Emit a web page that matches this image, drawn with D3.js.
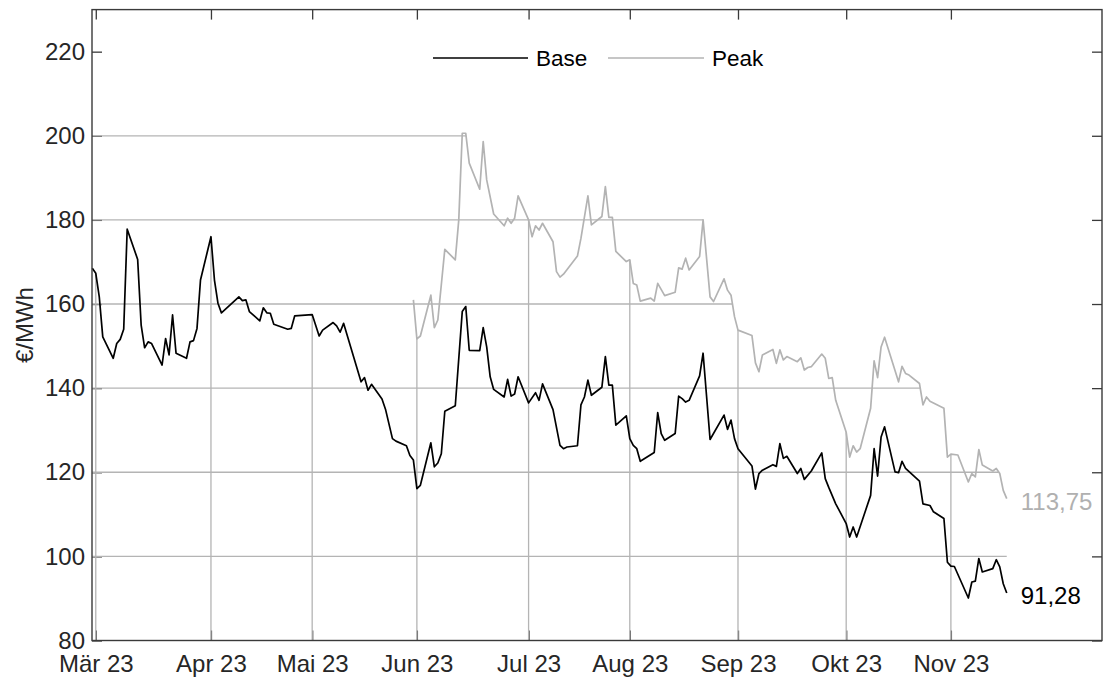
<!DOCTYPE html>
<html>
<head>
<meta charset="utf-8">
<script src="https://cdn.jsdelivr.net/npm/d3@7"></script>
<style>
  body { margin: 0; background: #fff; }
  svg text { font-family: "Liberation Sans", Arial, Helvetica, sans-serif; }
</style>
</head>
<body>
<div class="chart-container"></div>
<script>
// Tage seit 1. März 2023 (Handelstage), Werte in €/MWh
const startDate = '2023-03-01';

const baseSeries = [
  [-1,168.5],[0,167.3],[1,161.7],[2,152.2],[5,147.1],[6,150.6],[7,151.6],[8,154.0],[9,177.8],
  [12,170.6],[13,155.0],[14,149.6],[15,151.0],[16,150.6],[19,145.5],[20,151.8],[21,147.9],[22,157.4],[23,148.3],
  [26,147.1],[27,151.0],[28,151.3],[29,154.2],[30,165.7],[33,176.0],[34,165.7],[35,160.2],[36,157.9],
  [41,161.7],[42,160.8],[43,161.0],[44,158.2],[47,156.0],[48,159.1],[49,157.9],[50,157.8],[51,155.2],
  [55,154.0],[56,154.2],[57,157.2],[62,157.5],[64,152.4],[65,153.8],[68,155.6],[69,154.8],[70,153.3],[71,155.4],
  [76,141.5],[77,142.5],[78,139.5],[79,140.9],[82,137.4],[83,135.0],[85,128.0],[86,127.4],[89,126.3],[90,124.0],
  [91,122.9],[92,116.1],[93,116.9],[96,127.0],[97,121.3],[98,122.2],[99,124.4],[100,134.5],[103,135.8],
  [105,158.2],[106,159.4],[107,149.0],[110,148.9],[111,154.4],[112,149.8],[113,142.7],[114,139.7],
  [117,137.9],[118,142.1],[119,138.1],[120,138.6],[121,142.7],[124,136.5],[126,138.9],[127,137.1],[128,141.0],
  [131,134.9],[133,126.4],[134,125.6],[135,126.0],[138,126.3],[139,136.0],[140,137.9],[141,141.9],[142,138.3],
  [145,140.2],[146,147.5],[147,140.7],[148,140.7],[149,131.2],[152,133.4],[153,128.0],[154,126.4],[155,125.6],[156,122.6],
  [160,124.7],[161,134.2],[162,129.2],[163,127.6],[166,129.2],[167,138.1],[168,137.5],[169,136.7],[170,137.1],
  [173,142.9],[174,148.3],[176,127.8],[180,133.6],[181,130.2],[182,132.4],[183,128.0],[184,125.6],
  [188,121.5],[189,116.0],[190,119.7],[191,120.5],[194,121.8],[195,121.4],[196,126.8],[197,123.3],[198,123.8],
  [201,119.7],[202,120.9],[203,118.3],[205,120.3],[208,124.6],[209,118.5],[210,116.4],[212,112.5],
  [215,107.8],[216,104.6],[217,107.0],[218,104.6],[222,114.5],[223,125.6],[224,119.1],[225,128.4],[226,130.8],
  [229,120.1],[230,119.9],[231,122.6],[232,120.9],[236,117.9],[237,112.5],[239,112.1],[240,110.6],
  [243,109.0],[244,98.6],[245,97.7],[246,97.6],[250,90.1],[251,93.9],[252,94.1],[253,99.5],[254,96.3],
  [257,97.1],[258,99.2],[259,97.5],[260,93.5],[261,91.28]
];

const peakSeries = [
  [91,161.0],[92,151.7],[93,152.4],[96,162.1],[97,154.4],[98,156.2],[100,173.0],[103,170.5],[104,180.0],
  [105,200.6],[106,200.6],[107,193.5],[110,187.3],[111,198.6],[112,189.5],[114,181.4],
  [117,178.6],[118,180.4],[119,179.2],[120,180.4],[121,185.7],[124,180.0],[125,176.0],[126,178.6],[127,177.6],[128,179.2],
  [131,174.8],[132,167.7],[133,166.4],[134,167.1],[138,171.4],[139,175.6],[141,185.7],[142,178.8],
  [145,180.8],[146,187.9],[147,180.6],[148,180.6],[149,172.5],[152,170.1],[153,170.5],[154,164.9],[155,164.5],[156,160.7],
  [159,161.4],[160,160.7],[161,164.9],[163,162.0],[166,162.8],[167,168.6],[168,168.3],[169,170.9],[170,168.1],
  [173,171.3],[174,180.0],[176,161.7],[177,160.6],[180,166.0],[181,163.3],[182,162.1],[183,157.0],[184,153.8],
  [188,152.5],[189,146.0],[190,143.9],[191,147.9],[194,149.2],[195,145.9],[196,149.1],[197,146.7],[198,147.5],
  [201,146.3],[202,147.2],[203,144.3],[204,144.9],[205,145.1],[208,148.1],[209,147.1],[210,142.3],[211,142.5],[212,137.1],
  [215,129.5],[216,123.6],[217,126.3],[218,124.8],[219,125.6],[222,135.2],[223,146.5],[224,142.5],[225,149.8],[226,152.1],
  [230,141.5],[231,145.2],[232,143.5],[233,143.1],[236,141.1],[237,136.0],[238,137.9],[239,136.9],
  [243,135.2],[244,123.6],[245,124.3],[247,124.1],[250,117.7],[251,119.7],[252,118.9],[253,125.4],[254,121.7],
  [257,120.3],[258,120.9],[259,119.7],[260,115.7],[261,113.75]
];

// Monatsticks (erster Handelstag) und Beschriftung
const monthTickDates = ['2023-03-01','2023-04-03','2023-05-02','2023-06-01','2023-07-03','2023-08-01','2023-09-01','2023-10-02','2023-11-01'];
const monthLabels = ['Mär 23','Apr 23','Mai 23','Jun 23','Jul 23','Aug 23','Sep 23','Okt 23','Nov 23'];
const yTickValues = [80, 100, 120, 140, 160, 180, 200, 220];
const seriesNames = ['Base', 'Peak'];

// Hilfsfunktionen
const parseDate = d3.utcParse('%Y-%m-%d');
const day0 = parseDate(startDate);
const toDate = d => d3.utcHour.offset(day0, d * 24);
const deFormat = d3.formatLocale({decimal: ',', thousands: '.', grouping: [3], currency: ['', ' €']}).format('.2f');

function toPoints(series){
    return series.map(([d, v]) => ({day: d, date: toDate(d), value: v}));
}

const base = toPoints(baseSeries);
const peak = toPoints(peakSeries);

// obere Hüllkurve: Base bis Peak beginnt, danach Peak
const envelope = base.filter(p => p.day < peak[0].day).concat(peak);

function envelopeAt(date){
    const t = +date;
    for (let i = 0; i < envelope.length - 1; i++) {
        const a = envelope[i], b = envelope[i + 1];
        if (t >= +a.date && t <= +b.date) {
            return a.value + (b.value - a.value) * (t - a.date) / (b.date - a.date);
        }
    }
    return envelope[0].value;
}

// Ende der horizontalen Gitterlinie: letzter Schnittpunkt mit der Hüllkurve
function lastCrossing(v){
    let idx = -1;
    envelope.forEach((p, i) => { if (p.value >= v) idx = i; });
    if (idx < 0) return null;
    if (idx === envelope.length - 1) return envelope[idx].date;
    const a = envelope[idx], b = envelope[idx + 1];
    const t = (a.value - v) / (a.value - b.value);
    return new Date(+a.date + t * (b.date - a.date));
}

function setupCanvas(){
    const svg_width = 1103;
    const svg_height = 680;
    const plot = {left: 92, right: 1102, top: 9.6, bottom: 640.5};

    const svg = d3.select('.chart-container')
                  .append('svg')
                  .attr('width', svg_width).attr('height', svg_height);

    const xScale = d3.scaleUtc()
                     .domain([toDate(-1.06), toDate(288.3)])
                     .range([plot.left, plot.right]);
    const yScale = d3.scaleLinear()
                     .domain([80, 230])
                     .range([plot.bottom, plot.top]);

    const monthTicks = monthTickDates.map(parseDate);
    const tickColor = '#3a3a3a';
    const gridColor = '#b4b4b4';

    // Ticks nach innen auf allen vier Seiten
    const yLeft = d3.axisLeft(yScale).tickValues(yTickValues).tickFormat(d3.format('d'))
                    .tickSizeInner(-10).tickSizeOuter(0).tickPadding(7);
    const yRight = d3.axisRight(yScale).tickValues(yTickValues).tickFormat('')
                     .tickSizeInner(-10).tickSizeOuter(0);
    const xTop = d3.axisTop(xScale).tickValues(monthTicks).tickFormat('')
                   .tickSizeInner(-10).tickSizeOuter(0);
    const xBottom = d3.axisBottom(xScale).tickValues(monthTicks)
                      .tickFormat((d, i) => monthLabels[i])
                      .tickSizeInner(-10).tickSizeOuter(0).tickPadding(14);

    const axes = [
        [yLeft, `translate(${plot.left},0)`],
        [yRight, `translate(${plot.right},0)`],
        [xTop, `translate(0,${plot.top})`],
        [xBottom, `translate(0,${plot.bottom})`]
    ];
    axes.forEach(([ax, tr]) => {
        const g = svg.append('g').attr('transform', tr).call(ax);
        g.select('.domain').remove();
        g.selectAll('.tick line').attr('stroke', tickColor).attr('stroke-width', 1.3);
        g.selectAll('.tick text')
         .attr('fill', '#262626')
         .style('font-size', '24px')
         .style('font-family', '"Liberation Sans", Arial, sans-serif');
    });

    // Gitterlinien (nur bis zur Hüllkurve)
    const grid = svg.append('g').attr('class', 'grid')
                    .attr('stroke', gridColor).attr('stroke-width', 1.3);
    yTickValues.filter(v => v > 80).forEach(v => {
        const end = lastCrossing(v);
        if (!end) return;
        grid.append('line')
            .attr('x1', plot.left).attr('x2', xScale(end))
            .attr('y1', yScale(v)).attr('y2', yScale(v));
    });
    monthTicks.forEach(dt => {
        grid.append('line')
            .attr('x1', xScale(dt)).attr('x2', xScale(dt))
            .attr('y1', plot.bottom).attr('y2', yScale(envelopeAt(dt)));
    });

    // Linien
    const line = d3.line().x(d => xScale(d.date)).y(d => yScale(d.value));
    svg.append('path').datum(peak)
       .attr('d', line).attr('fill', 'none')
       .attr('stroke', '#b3b3b3').attr('stroke-width', 1.7).attr('stroke-linejoin', 'round');
    svg.append('path').datum(base)
       .attr('d', line).attr('fill', 'none')
       .attr('stroke', '#000').attr('stroke-width', 1.7).attr('stroke-linejoin', 'round');

    // Endwerte
    const lastBase = base[base.length - 1];
    const lastPeak = peak[peak.length - 1];
    [[lastPeak, '#b0b0b0'], [lastBase, '#000']].forEach(([p, c]) => {
        svg.append('text')
           .attr('x', xScale(p.date) + 14).attr('y', yScale(p.value) + 3)
           .attr('dy', '0.35em')
           .attr('fill', c)
           .style('font-size', '24px')
           .text(deFormat(p.value));
    });

    // Rahmen
    svg.append('rect')
       .attr('x', plot.left).attr('y', plot.top)
       .attr('width', plot.right - plot.left).attr('height', plot.bottom - plot.top)
       .attr('fill', 'none').attr('stroke', tickColor).attr('stroke-width', 1.4);

    // Achsentitel
    svg.append('text')
       .attr('transform', `translate(33,${(plot.top + plot.bottom) / 2}) rotate(-90)`)
       .attr('text-anchor', 'middle')
       .attr('fill', '#262626')
       .style('font-size', '24px')
       .text('€/MWh');

    // Legende
    const legend = svg.append('g').attr('class', 'legend');
    const legendItems = [
        {name: seriesNames[0], color: '#000', x1: 433, x2: 528},
        {name: seriesNames[1], color: '#b3b3b3', x1: 608, x2: 704}
    ];
    legendItems.forEach(it => {
        legend.append('line')
              .attr('x1', it.x1).attr('x2', it.x2).attr('y1', 58).attr('y2', 58)
              .attr('stroke', it.color).attr('stroke-width', 1.7);
        legend.append('text')
              .attr('x', it.x2 + 8).attr('y', 58).attr('dy', '0.35em')
              .attr('fill', '#000')
              .style('font-size', '22.5px')
              .text(it.name);
    });
}

setupCanvas();
</script>
</body>
</html>
